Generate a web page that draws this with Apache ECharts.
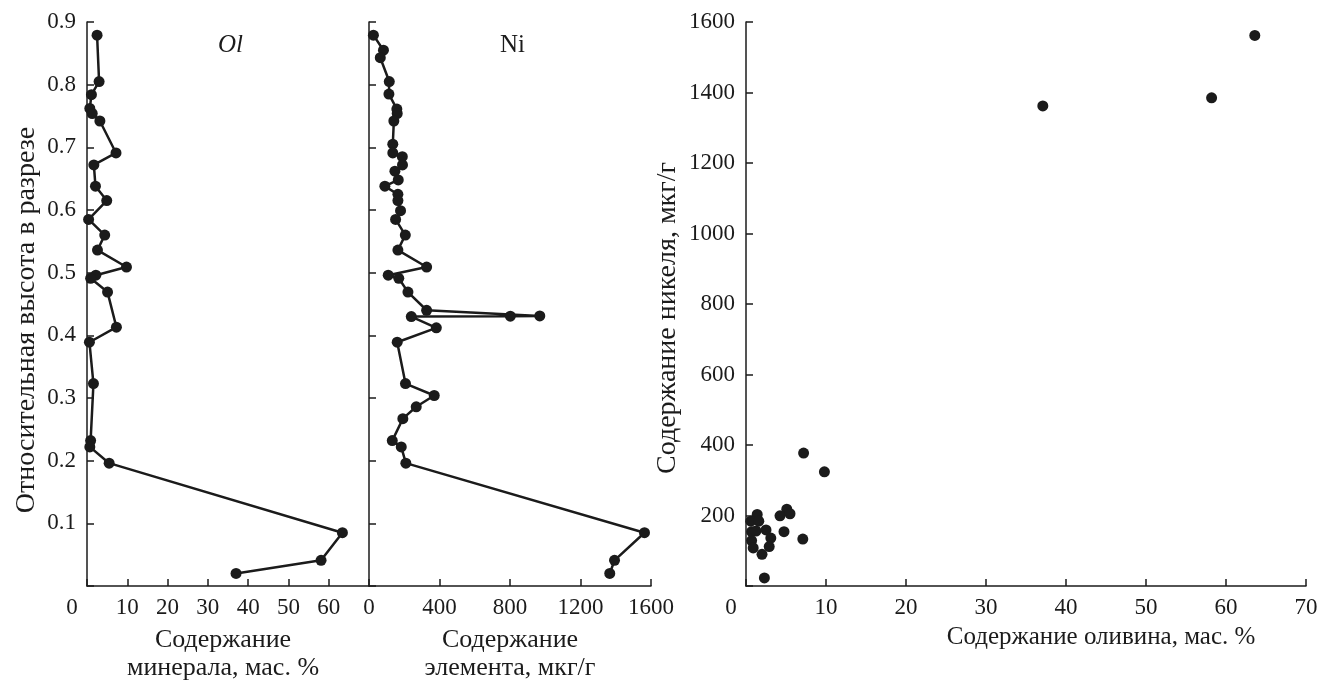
<!DOCTYPE html>
<html>
<head>
<meta charset="utf-8">
<script src="https://cdn.jsdelivr.net/npm/echarts@6/dist/echarts.min.js"></script>
<style>
  html, body { margin: 0; padding: 0; background: #fff; }
  #chart { width: 1339px; height: 687px; }
</style>
</head>
<body>
<div id="chart"></div>
<script>
// Olivine profile (relative height vs wt.%)
const olHeight = [0.879, 0.805, 0.784, 0.762, 0.754, 0.742, 0.691, 0.672, 0.638, 0.615, 0.585, 0.560, 0.536,
  0.509, 0.496, 0.491, 0.469, 0.413, 0.389, 0.323, 0.232, 0.222, 0.196, 0.085, 0.041, 0.020];
const olValue = [2.5, 3.0, 1.1, 0.7, 1.3, 3.2, 7.2, 1.7, 2.1, 4.9, 0.4, 4.4, 2.6,
  9.8, 2.2, 0.9, 5.1, 7.3, 0.6, 1.6, 0.9, 0.7, 5.5, 63.4, 58.1, 37.0];

// Ni profile (relative height vs ppm)
const niHeight = [0.879, 0.855, 0.843, 0.805, 0.785, 0.761, 0.754, 0.742, 0.705, 0.691, 0.685, 0.672, 0.662,
  0.648, 0.638, 0.625, 0.615, 0.599, 0.585, 0.560, 0.536, 0.509, 0.496, 0.491, 0.469, 0.440, 0.431, 0.4305,
  0.430, 0.412, 0.389, 0.323, 0.304, 0.286, 0.267, 0.232, 0.222, 0.196, 0.085, 0.041, 0.020];
const niValue = [25, 82, 64, 115, 113, 158, 160, 141, 135, 135, 189, 190, 147,
  166, 90, 164, 164, 179, 151, 206, 164, 327, 109, 169, 221, 327, 969, 802,
  240, 382, 160, 207, 370, 268, 192, 132, 183, 209, 1563, 1393, 1366];

// Ni vs olivine scatter
const scOl = [7.2, 9.8, 1.4, 0.6, 1.6, 5.1, 4.25, 5.5, 0.7, 1.25, 2.5, 4.75, 3.1, 0.7, 2.9, 0.9, 2.0, 7.1, 2.3,
  37.1, 58.2, 63.6];
const scNi = [377, 324, 203, 184, 184, 218, 199, 205, 154, 156, 159, 154, 136, 129, 112, 108, 90, 133, 23,
  1362, 1385, 1562];

const serif = '"Liberation Serif", "DejaVu Serif", serif';
const ink = '#1b1b1b';
const fs = 23;

const axisLine = { lineStyle: { color: ink, width: 1.5 } };
const axisTick = { inside: true, length: 7, lineStyle: { color: ink, width: 1.5 } };
const labelStyle = { color: ink, fontFamily: serif, fontSize: fs };
const nameStyle = { color: ink, fontFamily: serif, fontSize: 26, lineHeight: 28 };
const zeroRich = { z: { color: ink, fontFamily: serif, fontSize: fs, padding: [0, 30, 0, 0] } };

const chart = echarts.init(document.getElementById('chart'), null, { renderer: 'canvas' });

const option = {
  animation: false,
  backgroundColor: '#fff',
  title: [
    { text: 'Ol', left: 213, top: 28, textStyle: { color: ink, fontFamily: serif, fontSize: 25, fontStyle: 'italic', fontWeight: 'normal' } },
    { text: 'Ni', left: 495, top: 28, textStyle: { color: ink, fontFamily: serif, fontSize: 25, fontWeight: 'normal' } }
  ],
  grid: [
    { left: 87, top: 22, width: 282, height: 564 },
    { left: 369, top: 22, width: 282, height: 564 },
    { left: 746, top: 22, width: 560, height: 564 }
  ],
  xAxis: [
    {
      gridIndex: 0, type: 'value', min: 0, max: 70, interval: 10,
      name: 'Содержание\nминерала, мас. %', nameLocation: 'middle', nameGap: 40,
      nameTextStyle: { ...nameStyle, padding: [0, 10, 0, 0] },
      axisLine, axisTick, splitLine: { show: false },
      axisLabel: { ...labelStyle, margin: 10, rich: zeroRich,
        formatter: v => v === 0 ? '{z|0}' : (v === 70 ? '' : String(v)) }
    },
    {
      gridIndex: 1, type: 'value', min: 0, max: 1600, interval: 400,
      name: 'Содержание\nэлемента, мкг/г', nameLocation: 'middle', nameGap: 40, nameTextStyle: nameStyle,
      axisLine, axisTick, splitLine: { show: false },
      axisLabel: { ...labelStyle, margin: 10, formatter: v => String(v) }
    },
    {
      gridIndex: 2, type: 'value', min: 0, max: 70, interval: 10,
      name: 'Содержание оливина, мас. %', nameLocation: 'middle', nameGap: 37,
      nameTextStyle: { ...nameStyle, fontSize: 25, padding: [0, 0, 0, 150] },
      axisLine, axisTick, splitLine: { show: false },
      axisLabel: { ...labelStyle, margin: 10, rich: zeroRich,
        formatter: v => v === 0 ? '{z|0}' : String(v) }
    }
  ],
  yAxis: [
    {
      gridIndex: 0, type: 'value', min: 0, max: 0.9, interval: 0.1,
      name: 'Относительная высота в разрезе', nameLocation: 'middle', nameGap: 46,
      nameTextStyle: { ...nameStyle, fontSize: 28, padding: [0, 32, 0, 0] },
      axisLine, axisTick, splitLine: { show: false },
      axisLabel: { ...labelStyle, margin: 11, formatter: v => v === 0 ? '' : v.toFixed(1) }
    },
    {
      gridIndex: 1, type: 'value', min: 0, max: 0.9, interval: 0.1,
      axisLine, axisTick, splitLine: { show: false },
      axisLabel: { show: false }
    },
    {
      gridIndex: 2, type: 'value', min: 0, max: 1600, interval: 200,
      name: 'Содержание никеля, мкг/г', nameLocation: 'middle', nameGap: 64,
      nameTextStyle: { ...nameStyle, fontSize: 28, padding: [0, 28, 0, 0] },
      axisLine, axisTick, splitLine: { show: false },
      axisLabel: { ...labelStyle, margin: 11, formatter: v => v === 0 ? '' : String(v) }
    }
  ],
  series: [
    {
      type: 'line', xAxisIndex: 0, yAxisIndex: 0,
      data: olValue.map((v, i) => [v, olHeight[i]]),
      symbol: 'circle', symbolSize: 11,
      lineStyle: { color: ink, width: 2.5 }, itemStyle: { color: ink }
    },
    {
      type: 'line', xAxisIndex: 1, yAxisIndex: 1,
      data: niValue.map((v, i) => [v, niHeight[i]]),
      symbol: 'circle', symbolSize: 11,
      lineStyle: { color: ink, width: 2.5 }, itemStyle: { color: ink }
    },
    {
      type: 'scatter', xAxisIndex: 2, yAxisIndex: 2,
      data: scOl.map((v, i) => [v, scNi[i]]),
      symbol: 'circle', symbolSize: 11,
      itemStyle: { color: ink, opacity: 1 }
    }
  ]
};

chart.setOption(option);
</script>
</body>
</html>
